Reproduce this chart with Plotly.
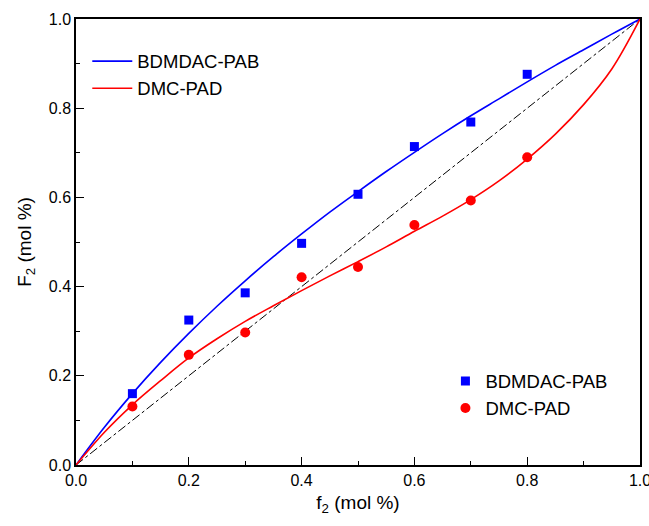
import plotly.graph_objects as go

# Experimental points
f2_points = [0.1, 0.2, 0.3, 0.4, 0.5, 0.6, 0.7, 0.8]
F2_bdmdac = [0.160, 0.325, 0.386, 0.497, 0.607, 0.714, 0.769, 0.876]
F2_dmc = [0.131, 0.247, 0.297, 0.421, 0.444, 0.538, 0.593, 0.690]

# Fitted curves
f2_curve = [0.0, 0.05, 0.1, 0.15, 0.2, 0.25, 0.3, 0.35, 0.4, 0.45, 0.5,
            0.55, 0.6, 0.65, 0.7, 0.75, 0.8, 0.85, 0.9, 0.95, 1.0]
F2_curve_bdmdac = [0.0, 0.084, 0.160, 0.230, 0.295, 0.356, 0.413, 0.467, 0.518, 0.567, 0.613,
                   0.658, 0.701, 0.743, 0.783, 0.821, 0.859, 0.896, 0.931, 0.966, 1.0]
F2_curve_dmc = [0.0, 0.073, 0.135, 0.189, 0.240, 0.283, 0.322, 0.357, 0.391, 0.424, 0.456,
                0.489, 0.524, 0.558, 0.595, 0.637, 0.686, 0.742, 0.808, 0.888, 1.0]

# Diagonal reference
diag = [0.0, 1.0]

font_family = "Arial, Liberation Sans, sans-serif"

fig = go.Figure()

fig.add_trace(go.Scatter(x=diag, y=diag, mode="lines",
                         line=dict(color="black", width=1, dash="dashdot"),
                         showlegend=False))
fig.add_trace(go.Scatter(x=f2_curve, y=F2_curve_bdmdac, mode="lines",
                         line=dict(color="#0000ff", width=1.6, shape="spline"),
                         name="BDMDAC-PAB", legend="legend"))
fig.add_trace(go.Scatter(x=f2_curve, y=F2_curve_dmc, mode="lines",
                         line=dict(color="#ff0000", width=1.6, shape="spline"),
                         name="DMC-PAD", legend="legend"))
fig.add_trace(go.Scatter(x=f2_points, y=F2_bdmdac, mode="markers",
                         marker=dict(symbol="square", color="#0000ff", size=9),
                         name="BDMDAC-PAB", legend="legend2"))
fig.add_trace(go.Scatter(x=f2_points, y=F2_dmc, mode="markers",
                         marker=dict(symbol="circle", color="#ff0000", size=10),
                         name="DMC-PAD", legend="legend2"))

axis_common = dict(
    range=[0, 1],
    showline=True, linecolor="black", linewidth=1.5, mirror=True,
    ticks="inside", ticklen=8, tickwidth=1.2, tickcolor="black",
    dtick=0.2, tickformat=".1f",
    minor=dict(ticks="inside", ticklen=4, tickwidth=1.2, tickcolor="black", dtick=0.1),
    showgrid=False, zeroline=False,
    ticklabeloverflow="allow",
    tickfont=dict(family=font_family, size=16, color="black"),
)

fig.update_layout(
    width=649, height=526,
    margin=dict(l=76, r=9, t=19, b=61, autoexpand=False),
    paper_bgcolor="white", plot_bgcolor="white",
    font=dict(family=font_family, color="black"),
    xaxis=dict(**axis_common,
               title=dict(text="f<sub>2</sub> (mol %)", font=dict(family=font_family, size=19), standoff=8)),
    yaxis=dict(**axis_common,
               title=dict(text="F<sub>2</sub> (mol %)", font=dict(family=font_family, size=19), standoff=12)),
    legend=dict(x=0.02, y=0.947, xanchor="left", yanchor="top",
                bgcolor="rgba(0,0,0,0)", borderwidth=0, tracegroupgap=0,
                font=dict(family=font_family, size=18.5), itemwidth=40),
    legend2=dict(x=0.655, y=0.23, xanchor="left", yanchor="top",
                 bgcolor="rgba(0,0,0,0)", borderwidth=0,
                 font=dict(family=font_family, size=18.5)),
)

fig.write_html("out.html")
